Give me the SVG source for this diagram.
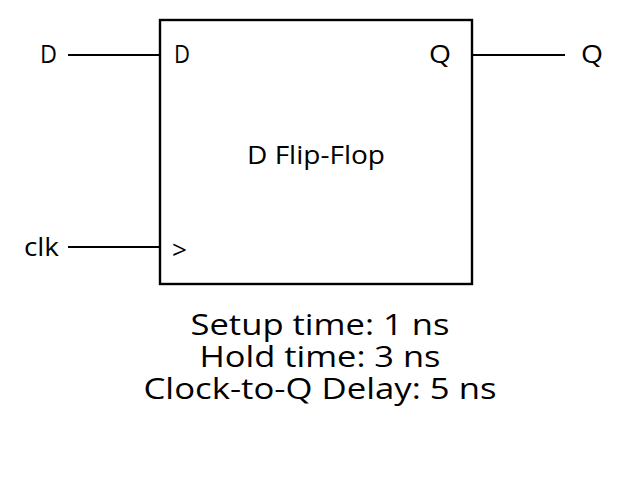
<svg xmlns="http://www.w3.org/2000/svg" width="617" height="500" viewBox="0 0 617 500">
<style>
text{font-family:"Open Sans","Noto Sans","Liberation Sans",sans-serif;fill:#000}
.pin{font-size:26px}
.info{font-size:30px;text-anchor:middle}
.wire{stroke:#000;stroke-width:2;fill:none}
</style>
<rect width="617" height="500" fill="#fff"/>
<g id="connectors">
<line class="wire" x1="68" y1="55" x2="160" y2="55"/>
<line class="wire" x1="472" y1="55" x2="565" y2="55"/>
<line class="wire" x1="68" y1="247" x2="160" y2="247"/>
</g>
<g id="dff">
<rect x="160" y="20" width="312" height="264" fill="#fff" stroke="#000" stroke-width="2.4"/>
<text class="pin" x="174" y="63" textLength="16" lengthAdjust="spacingAndGlyphs">D</text>
<text class="pin" x="429" y="63" textLength="22" lengthAdjust="spacingAndGlyphs">Q</text>
<text class="pin" x="172" y="259" font-size="30" textLength="15" lengthAdjust="spacingAndGlyphs">&gt;</text>
<text class="pin" x="247" y="164" textLength="138" lengthAdjust="spacingAndGlyphs">D Flip-Flop</text>
</g>
<g id="in-d"><text class="pin" x="40" y="63" textLength="17" lengthAdjust="spacingAndGlyphs">D</text></g>
<g id="out-q"><text class="pin" x="581" y="63" textLength="22" lengthAdjust="spacingAndGlyphs">Q</text></g>
<g id="in-clk"><text class="pin" x="24" y="256" textLength="35" lengthAdjust="spacingAndGlyphs">clk</text></g>
<g id="timing">
<text class="info" x="320" y="335" textLength="259" lengthAdjust="spacingAndGlyphs">Setup time: 1 ns</text>
<text class="info" x="320" y="367" textLength="241" lengthAdjust="spacingAndGlyphs">Hold time: 3 ns</text>
<text class="info" x="320" y="399" textLength="353" lengthAdjust="spacingAndGlyphs">Clock-to-Q Delay: 5 ns</text>
</g>
</svg>
